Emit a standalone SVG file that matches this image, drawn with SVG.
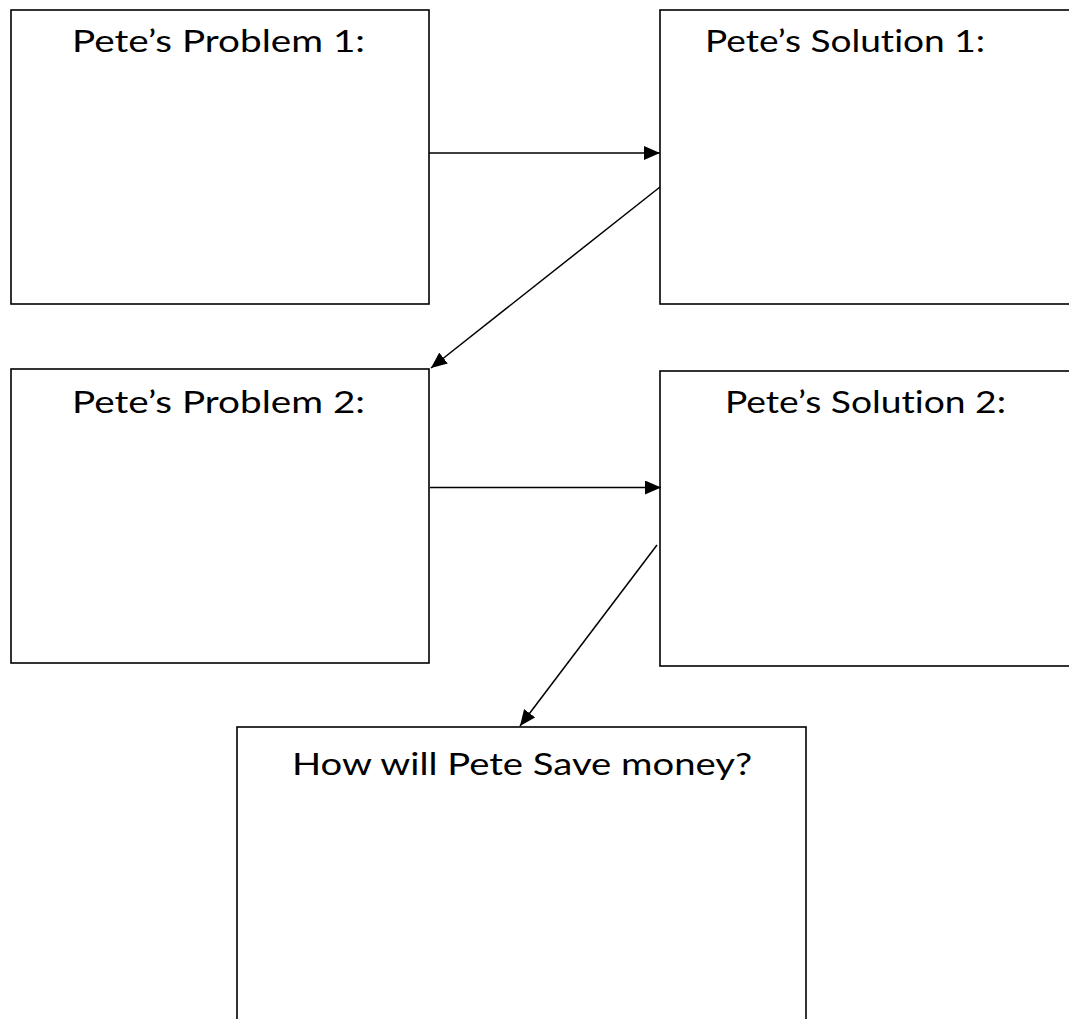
<svg xmlns="http://www.w3.org/2000/svg" width="1069" height="1019" viewBox="0 0 1069 1019">
  <style>
    .box { fill: #ffffff; stroke: #000000; stroke-width: 1.6; }
    .lbl { font-family: Lato, "Open Sans", "Liberation Sans", sans-serif; font-size: 30px; fill: #000000; font-variant-ligatures: none; font-feature-settings: "liga" 0; }
    .conn { stroke: #000000; stroke-width: 1.5; fill: none; marker-end: url(#arrow); }
  </style>
  <defs>
    <marker id="arrow" markerUnits="userSpaceOnUse" markerWidth="17" markerHeight="14" refX="16" refY="7" orient="auto">
      <path d="M0,0 L16,7 L0,14 Z" fill="#000000"/>
    </marker>
  </defs>
  <rect width="1069" height="1019" fill="#ffffff"/>
  <g id="problem1">
    <rect class="box" x="11" y="10" width="418" height="294"/>
    <text class="lbl" x="72" y="52" textLength="293" lengthAdjust="spacingAndGlyphs">Pete’s Problem 1:</text>
  </g>
  <g id="solution1">
    <rect class="box" x="660" y="10" width="420" height="294"/>
    <text class="lbl" x="705" y="52" textLength="280" lengthAdjust="spacingAndGlyphs">Pete’s Solution 1:</text>
  </g>
  <g id="problem2">
    <rect class="box" x="11" y="369" width="418" height="294"/>
    <text class="lbl" x="72" y="413" textLength="293" lengthAdjust="spacingAndGlyphs">Pete’s Problem 2:</text>
  </g>
  <g id="solution2">
    <rect class="box" x="660" y="371" width="420" height="295"/>
    <text class="lbl" x="725" y="413" textLength="281" lengthAdjust="spacingAndGlyphs">Pete’s Solution 2:</text>
  </g>
  <g id="savemoney">
    <rect class="box" x="237" y="727" width="569" height="320"/>
    <text class="lbl" x="292" y="775" textLength="460" lengthAdjust="spacingAndGlyphs">How will Pete Save money?</text>
  </g>
  <g id="connectors">
    <line class="conn" x1="429" y1="153" x2="660" y2="153"/>
    <line class="conn" x1="660" y1="187" x2="431" y2="368"/>
    <line class="conn" x1="430" y1="487.5" x2="661" y2="487.5"/>
    <line class="conn" x1="657" y1="545" x2="520" y2="726"/>
  </g>
</svg>
